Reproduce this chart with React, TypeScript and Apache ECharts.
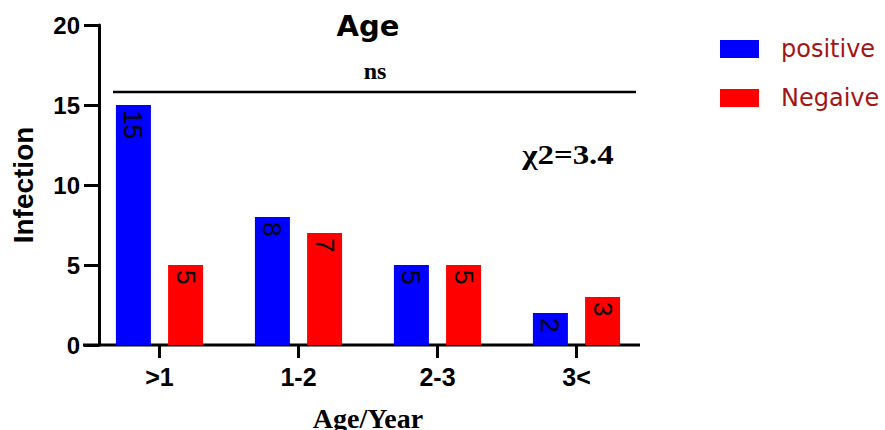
import React, { useEffect, useRef } from "react";
import * as echarts from "echarts";

const categories = [">1", "1-2", "2-3", "3<"];
const positive = [15, 8, 5, 2];
const negative = [5, 7, 5, 3];
const yTicks = [0, 5, 10, 15, 20];
const seriesNames = ["positive", "Negaive"];

export default function App() {
  const ref = useRef<HTMLDivElement>(null);
  useEffect(() => {
    document.body.style.margin = "0";
    const chart = echarts.init(ref.current!, null, { renderer: "svg" });
    const sans = "'Liberation Sans', Arial, sans-serif";
    const narrow = "'Liberation Sans Narrow', 'Arial Narrow', sans-serif";
    const wide = "'DejaVu Sans', sans-serif";
    const serif = "'Liberation Serif', 'Times New Roman', serif";
    const label = {
      show: true,
      position: "insideTop",
      rotate: -90,
      align: "left",
      verticalAlign: "middle",
      distance: 5,
      color: "#000",
      fontFamily: narrow,
      fontSize: 26,
    };
    chart.setOption({
      animation: false,
      grid: { left: 90, right: 239, top: 25, bottom: 85, containLabel: false, outerBoundsMode: "none" },
      legend: {
        left: 720,
        top: 37,
        padding: 0,
        orient: "vertical",
        itemWidth: 39,
        itemHeight: 18,
        itemGap: 25,
        icon: "rect",
        data: seriesNames,
        textStyle: { color: "#a31515", fontFamily: wide, fontSize: 24, padding: [0, 0, 0, 17] },
      },
      xAxis: {
        type: "category",
        data: categories,
        name: "Age/Year",
        nameLocation: "middle",
        nameGap: 59,
        nameTextStyle: { fontFamily: serif, fontWeight: "bold", fontSize: 28, color: "#000" },
        axisLine: { show: false },
        axisTick: { show: true, alignWithLabel: true, length: 13, lineStyle: { color: "#000", width: 3 } },
        axisLabel: { margin: 19, color: "#000", fontFamily: sans, fontWeight: "bold", fontSize: 25 },
      },
      yAxis: {
        type: "value",
        min: 0,
        max: 20,
        interval: 5,
        offset: -9,
        name: "Infection",
        nameLocation: "middle",
        nameGap: 62,
        nameTextStyle: { fontFamily: sans, fontWeight: "bold", fontSize: 28, color: "#000" },
        splitLine: { show: false },
        axisLine: { show: true, lineStyle: { color: "#000", width: 3 } },
        axisTick: { show: true, length: 15, lineStyle: { color: "#000", width: 3 } },
        axisLabel: {
          margin: 19,
          color: "#000",
          fontFamily: sans,
          fontWeight: "bold",
          fontSize: 24,
          formatter: (v: number) => (yTicks.includes(v) ? String(v) : ""),
        },
      },
      series: [
        {
          name: seriesNames[0],
          type: "bar",
          data: positive,
          barWidth: 35,
          barGap: "49%",
          itemStyle: { color: "#0000ff" },
          label,
        },
        {
          name: seriesNames[1],
          type: "bar",
          data: negative,
          barWidth: 35,
          itemStyle: { color: "#ff0000" },
          label,
        },
      ],
      graphic: [
        { type: "line", shape: { x1: 83, y1: 345, x2: 640, y2: 345 }, style: { stroke: "#000", lineWidth: 3 } },
        { type: "line", shape: { x1: 113, y1: 92, x2: 636, y2: 92 }, style: { stroke: "#000", lineWidth: 2.5 } },
        {
          type: "text",
          x: 368,
          y: 26,
          style: { text: "Age", fill: "#000", font: `bold 29px ${wide}`, textAlign: "center", textVerticalAlign: "middle" },
        },
        {
          type: "text",
          x: 375,
          y: 71,
          style: { text: "ns", fill: "#000", font: `bold 24px ${serif}`, textAlign: "center", textVerticalAlign: "middle" },
        },
        {
          type: "text",
          x: 568,
          y: 155,
          scaleX: 1.22,
          style: { text: "χ2=3.4", fill: "#000", font: `bold 27px ${serif}`, textAlign: "center", textVerticalAlign: "middle" },
        },
      ],
    });
    return () => chart.dispose();
  }, []);
  return <div ref={ref} style={{ width: 885, height: 430 }} />;
}
